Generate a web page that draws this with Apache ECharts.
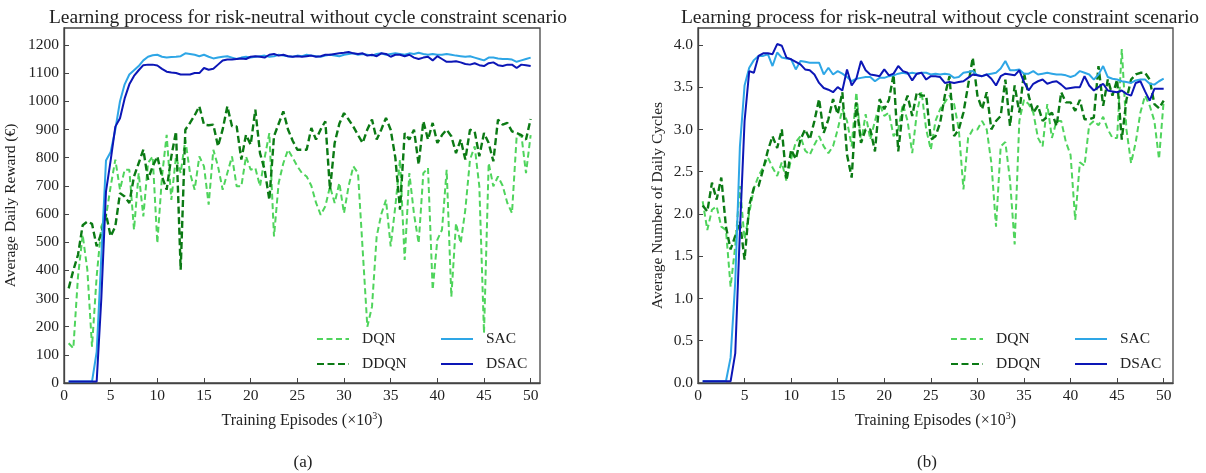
<!DOCTYPE html>
<html>
<head>
<meta charset="utf-8">
<script src="https://cdn.jsdelivr.net/npm/echarts@6/dist/echarts.min.js"></script>
<style>html,body{margin:0;padding:0;background:#fff;}#c{width:1206px;height:473px;}</style>
</head>
<body>
<div id="c"></div>
<script>
const episodes = [0.5,1,1.5,2,2.5,3,3.5,4,4.5,5,5.5,6,6.5,7,7.5,8,8.5,9,9.5,10,10.5,11,11.5,12,12.5,13,13.5,14,14.5,15,15.5,16,16.5,17,17.5,18,18.5,19,19.5,20,20.5,21,21.5,22,22.5,23,23.5,24,24.5,25,25.5,26,26.5,27,27.5,28,28.5,29,29.5,30,30.5,31,31.5,32,32.5,33,33.5,34,34.5,35,35.5,36,36.5,37,37.5,38,38.5,39,39.5,40,40.5,41,41.5,42,42.5,43,43.5,44,44.5,45,45.5,46,46.5,47,47.5,48,48.5,49,49.5,50];
const xTicks = [0,5,10,15,20,25,30,35,40,45,50];
const seriesNames = ['DQN','DDQN','SAC','DSAC'];

const rewardDQN = [141,123,378,526,402,129,378,556,591,698, 793,686,757,757,544,745,591,781,804,496, 733,881,650,804,745,864,745,686,804,769, 633,828,769,686,745,804,698,698,804,757, 763,698,800,887,520,710,780,828,800,769, 745,733,700,640,597,627,698,639,710,603, 700,769,745,473,200,271,520,600,650,485, 627,793,437,745,600,496,745,763,331,508, 544,757,306,567,496,615,793,840,698,177, 781,698,733,700,639,603,876,881,745,880];
const rewardDDQN = [336,400,455,560,573,565,485,532,600,520, 556,674,662,639,733,780,828,722,769,804, 733,686,804,893,402,899,923,950,982,917, 915,917,840,900,982,911,911,793,881,846, 970,816,757,650,876,920,964,900,860,828, 828,828,905,864,900,929,686,852,920,958, 935,910,880,852,900,935,864,900,941,899, 800,615,887,864,899,775,929,864,923,852, 880,899,876,816,864,793,899,893,805,887, 852,787,935,917,923,893,887,880,864,937];
const rewardSAC = [5,5,5,5,5,5,110,450,790,820, 900,1000,1060,1095,1110,1125,1145,1158,1163,1165, 1158,1155,1157,1158,1160,1170,1168,1165,1160,1165, 1158,1152,1155,1158,1160,1155,1150,1155,1158,1155, 1158,1160,1162,1158,1160,1165,1162,1160,1158,1162, 1160,1165,1162,1160,1158,1162,1165,1162,1160,1165, 1168,1170,1165,1168,1165,1162,1168,1170,1165,1168, 1170,1168,1165,1170,1168,1172,1168,1165,1168,1165, 1165,1168,1165,1162,1160,1158,1160,1155,1150,1145, 1155,1155,1152,1150,1150,1148,1140,1145,1150,1155];
const rewardDSAC = [5,5,5,5,5,5,5,300,680,790, 910,940,1010,1060,1090,1110,1128,1130,1130,1127, 1115,1105,1102,1100,1095,1095,1095,1100,1100,1118, 1112,1115,1130,1145,1148,1148,1150,1152,1150,1158, 1160,1158,1155,1165,1168,1162,1165,1160,1158,1160, 1158,1160,1162,1158,1160,1165,1165,1168,1170,1172, 1175,1170,1168,1170,1162,1165,1160,1170,1168,1158, 1165,1165,1160,1165,1155,1150,1155,1158,1145,1160, 1150,1140,1140,1142,1138,1132,1130,1135,1128,1125, 1135,1138,1128,1125,1130,1130,1118,1130,1128,1125];

const cyclesDQN = [2.15,1.81,2.05,2.09,1.85,1.81,1.14,1.62,2.33,1.70, 2.01,2.30,2.45,2.55,2.67,2.55,2.45,2.61,2.39,2.65, 2.85,2.92,2.75,2.70,2.82,2.92,2.80,2.72,2.80,3.00, 3.24,3.10,2.80,3.44,2.84,3.18,2.88,3.10,3.30,3.16, 3.20,2.92,3.00,3.30,3.10,2.72,3.20,3.45,3.00,2.76, 3.10,3.24,3.32,3.40,3.30,3.00,2.29,2.90,3.00,3.00, 3.10,3.00,2.60,1.85,2.80,2.85,2.40,1.64,3.10,3.35, 3.30,3.20,2.90,2.80,3.30,2.90,3.10,3.10,2.85,2.70, 1.93,2.61,2.57,3.05,3.10,3.05,3.15,3.00,2.90,2.90, 3.95,3.00,2.60,2.85,3.20,3.40,3.28,3.10,2.65,3.34];
const cyclesDDQN = [2.10,2.03,2.37,2.17,2.43,1.85,1.58,1.74,1.91,1.46, 2.10,2.31,2.33,2.53,2.75,2.92,2.78,3.00,2.40,2.76, 2.65,2.88,3.00,2.88,3.10,3.36,2.96,3.12,3.36,3.18, 3.44,2.70,2.43,3.32,2.84,3.00,3.00,2.74,3.36,3.24, 3.35,3.65,2.74,3.24,3.40,3.16,3.44,3.40,3.40,2.88, 2.92,3.08,3.40,3.63,2.92,3.00,3.20,3.52,3.85,3.40, 3.24,3.44,3.00,3.10,3.16,3.59,3.04,3.52,3.20,3.67, 3.40,3.20,3.28,3.10,3.15,3.20,3.04,3.44,3.32,3.32, 3.22,3.35,3.12,3.12,3.14,3.75,3.28,3.59,3.40,3.59, 2.88,3.35,3.59,3.65,3.67,3.67,3.59,3.30,3.25,3.34];
const cyclesSAC = [0.02,0.02,0.02,0.02,0.02,0.02,0.30,1.20,2.80,3.52, 3.73,3.82,3.87,3.87,3.89,3.75,3.91,3.85,3.84,3.83, 3.71,3.81,3.80,3.79,3.79,3.79,3.65,3.73,3.65,3.69, 3.66,3.62,3.57,3.60,3.61,3.62,3.62,3.57,3.61,3.61, 3.63,3.64,3.66,3.67,3.66,3.67,3.66,3.67,3.67,3.65, 3.66,3.65,3.66,3.65,3.61,3.62,3.67,3.68,3.69,3.64, 3.63,3.65,3.66,3.67,3.72,3.81,3.70,3.70,3.71,3.66, 3.66,3.69,3.65,3.66,3.67,3.66,3.65,3.65,3.64,3.62, 3.64,3.69,3.67,3.65,3.59,3.65,3.75,3.62,3.60,3.59, 3.57,3.56,3.55,3.58,3.59,3.59,3.54,3.53,3.57,3.60];
const cyclesDSAC = [0.02,0.02,0.02,0.02,0.02,0.02,0.02,0.35,1.80,3.10, 3.69,3.67,3.87,3.90,3.90,3.89,4.01,3.99,3.85,3.83, 3.80,3.77,3.71,3.70,3.65,3.55,3.49,3.47,3.44,3.50, 3.46,3.71,3.52,3.60,3.81,3.70,3.65,3.64,3.63,3.71, 3.64,3.66,3.75,3.69,3.67,3.58,3.66,3.67,3.59,3.63, 3.63,3.62,3.55,3.56,3.55,3.56,3.57,3.61,3.65,3.64, 3.63,3.65,3.60,3.52,3.63,3.66,3.65,3.64,3.70,3.56, 3.46,3.54,3.57,3.59,3.54,3.56,3.57,3.53,3.48,3.49, 3.50,3.50,3.63,3.52,3.46,3.50,3.54,3.46,3.45,3.44, 3.46,3.42,3.40,3.55,3.57,3.45,3.34,3.48,3.48,3.48];

const FONT = '"Liberation Serif", "Times New Roman", serif';
const COLORS = { DQN: '#4fd45c', DDQN: '#0b7a14', SAC: '#2ea6e6', DSAC: '#0c16b6' };
const STYLES = {
  DQN:  { width: 2,   type: [6, 3.5] },
  DDQN: { width: 2.4, type: [7, 3.5] },
  SAC:  { width: 2,   type: 'solid' },
  DSAC: { width: 2,   type: 'solid' }
};

function pairs(vals) { return episodes.map((x, i) => [x, vals[i]]); }

function mkSeries(name, vals, idx) {
  return {
    name: name, type: 'line', xAxisIndex: idx, yAxisIndex: idx,
    data: pairs(vals), symbol: 'none', showSymbol: false,
    lineStyle: { color: COLORS[name], width: STYLES[name].width, type: STYLES[name].type },
    itemStyle: { color: COLORS[name] },
    z: 2, animation: false
  };
}

const grids = [
  { left: 64, top: 28, width: 476, height: 355 },
  { left: 698, top: 28, width: 475, height: 355 }
];

function xAxis(idx) {
  return {
    type: 'value', gridIndex: idx, min: 0, max: 51, interval: 5,
    name: '{a|Training Episodes (×10}{s|3}{a|)}',
    nameLocation: 'middle', nameGap: 28,
    nameTextStyle: { rich: {
      a: { fontFamily: FONT, fontSize: 16, color: '#222' },
      s: { fontFamily: FONT, fontSize: 10, color: '#222', verticalAlign: 'top', padding: [0, 0, 9, 0] }
    } },
    axisLine: { show: true, lineStyle: { color: '#444', width: 1.3 } },
    axisTick: { show: true, inside: true, length: 5, lineStyle: { color: '#444', width: 1 } },
    axisLabel: { show: true, showMaxLabel: false, margin: 5, fontFamily: FONT, fontSize: 15.5, color: '#222',
      formatter: v => (xTicks.indexOf(v) >= 0 ? String(v) : '') },
    splitLine: { show: false }
  };
}

function yAxis(idx, max, interval, name, gap, fmt) {
  return {
    type: 'value', gridIndex: idx, min: 0, max: max, interval: interval,
    name: name, nameLocation: 'middle', nameGap: gap, nameRotate: 90,
    nameTextStyle: { fontFamily: FONT, fontSize: 15.5, color: '#222' },
    axisLine: { show: true, lineStyle: { color: '#444', width: 1.3 } },
    axisTick: { show: true, inside: true, length: 5, lineStyle: { color: '#444', width: 1 } },
    axisLabel: { show: true, showMaxLabel: false, margin: 5, fontFamily: FONT, fontSize: 15.5, color: '#222', formatter: fmt },
    splitLine: { show: false }
  };
}

function legend(names, left) {
  return {
    data: names, orient: 'vertical', left: left, top: 326,
    itemWidth: 32, itemHeight: 14, itemGap: 9,
    itemStyle: { opacity: 0 },
    textStyle: { fontFamily: FONT, fontSize: 15.5, color: '#222', padding: [0, 0, 0, 8] },
    backgroundColor: 'transparent', borderWidth: 0,
    selectedMode: false
  };
}

const titleText = 'Learning process for risk-neutral without cycle constraint scenario';

const option = {
  backgroundColor: '#ffffff',
  animation: false,
  title: [
    { text: titleText, left: 303, top: 3, textAlign: 'center',
      textStyle: { fontFamily: FONT, fontSize: 19.5, fontWeight: 'normal', color: '#222' } },
    { text: titleText, left: 935, top: 3, textAlign: 'center',
      textStyle: { fontFamily: FONT, fontSize: 19.5, fontWeight: 'normal', color: '#222' } },
    { text: '(a)', left: 298, top: 449, textAlign: 'center',
      textStyle: { fontFamily: FONT, fontSize: 17, fontWeight: 'normal', color: '#222' } },
    { text: '(b)', left: 922, top: 449, textAlign: 'center',
      textStyle: { fontFamily: FONT, fontSize: 17, fontWeight: 'normal', color: '#222' } }
  ],
  grid: grids.map(g => Object.assign({ show: true, borderColor: '#444', borderWidth: 1.3, backgroundColor: 'transparent', containLabel: false }, g)),
  xAxis: [xAxis(0), xAxis(1)],
  yAxis: [
    yAxis(0, 1260, 100, 'Average Daily Reward (€)', 45, v => String(v)),
    yAxis(1, 4.2, 0.5, 'Average Number of Daily Cycles', 32, v => v.toFixed(1))
  ],
  legend: [
    legend(['DQN', 'DDQN'], 311),
    legend(['SAC', 'DSAC'], 435),
    legend(['DQN', 'DDQN'], 945),
    legend(['SAC', 'DSAC'], 1069)
  ],
  series: [
    mkSeries('DQN', rewardDQN, 0),
    mkSeries('DDQN', rewardDDQN, 0),
    mkSeries('SAC', rewardSAC, 0),
    mkSeries('DSAC', rewardDSAC, 0),
    mkSeries('DQN', cyclesDQN, 1),
    mkSeries('DDQN', cyclesDDQN, 1),
    mkSeries('SAC', cyclesSAC, 1),
    mkSeries('DSAC', cyclesDSAC, 1)
  ]
};

const chart = echarts.init(document.getElementById('c'), null, { renderer: 'canvas' });
chart.setOption(option);
</script>
</body>
</html>
